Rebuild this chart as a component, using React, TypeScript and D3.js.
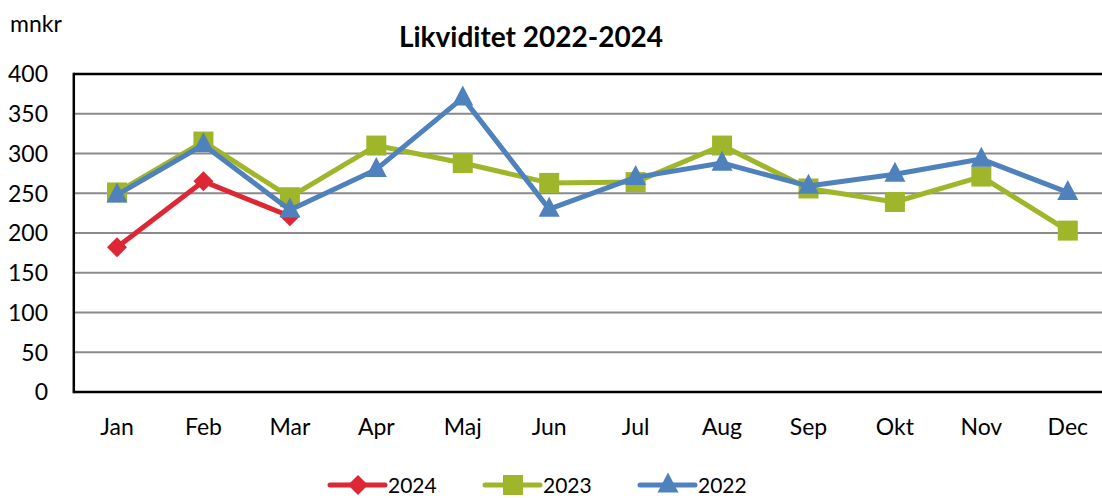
import React from "react";
import * as d3 from "d3";

const months = ["Jan", "Feb", "Mar", "Apr", "Maj", "Jun", "Jul", "Aug", "Sep", "Okt", "Nov", "Dec"];
const values2024 = [182, 265, 221];
const values2023 = [251, 315, 245, 310, 288, 263, 264, 310, 256, 239, 271, 203];
const values2022 = [248, 311, 229, 280, 370, 230, 270, 288, 259, 274, 293, 251];
const yTicks = [0, 50, 100, 150, 200, 250, 300, 350, 400];
const seriesNames = ["2024", "2023", "2022"];

const colors: Record<string, string> = { "2024": "#DD2735", "2023": "#A0B62A", "2022": "#4F81BD" };
const FONT = "Lato, 'Open Sans', sans-serif";

function Marker({ kind, x, y, color }: { kind: string; x: number; y: number; color: string }) {
  if (kind === "2024") {
    const s = 10;
    return <path d={`M${x},${y - s} L${x + s},${y} L${x},${y + s} L${x - s},${y} Z`} fill={color} />;
  }
  if (kind === "2023") {
    const s = 10;
    return <rect x={x - s} y={y - s} width={2 * s} height={2 * s} fill={color} />;
  }
  const h = 20;
  const w = 21;
  return <path d={`M${x},${y - h * 0.62} L${x + w / 2},${y + h * 0.38} L${x - w / 2},${y + h * 0.38} Z`} fill={color} />;
}

export default function App() {
  const left = 73.8, right = 1111, top = 74, bottom = 392;
  const x = d3.scaleBand<string>().domain(months).range([left, right]).padding(0);
  const cx = (m: string) => (x(m) as number) + x.bandwidth() / 2;
  const y = d3.scaleLinear().domain([0, 400]).range([bottom, top]);
  const line = d3.line<[string, number]>().x((d) => cx(d[0])).y((d) => y(d[1]));

  const series: [string, number[]][] = [
    ["2024", values2024],
    ["2023", values2023],
    ["2022", values2022],
  ];

  const legendX: Record<string, number> = { "2024": 330, "2023": 485, "2022": 640 };
  const legendY = 485;

  return (
    <svg width={1102} height={498} style={{ position: "absolute", left: 0, top: 0, background: "#fff" }}>
      <text x={10} y={32} fontFamily={FONT} fontSize={23} fill="#000">mnkr</text>
      <text x={531} y={47} textAnchor="middle" fontFamily={FONT} fontSize={28} fontWeight="bold" fill="#000">
        Likviditet 2022-2024
      </text>
      {yTicks.map((t) => (
        <g key={t}>
          {t > 0 && t < 400 && (
            <line x1={left} x2={right} y1={y(t)} y2={y(t)} stroke="#8a8a8a" strokeWidth={2} />
          )}
          <text x={48} y={y(t)} dy="0.36em" textAnchor="end" fontFamily={FONT} fontSize={23} fill="#000">
            {t}
          </text>
        </g>
      ))}
      <line x1={left} x2={right} y1={top} y2={top} stroke="#000" strokeWidth={2.5} />
      <line x1={left} x2={right} y1={bottom} y2={bottom} stroke="#000" strokeWidth={2.5} />
      <line x1={left} x2={left} y1={top - 1.2} y2={bottom + 1.2} stroke="#000" strokeWidth={2.5} />
      {months.map((m) => (
        <text key={m} x={cx(m)} y={435} textAnchor="middle" fontFamily={FONT} fontSize={23} fill="#000">
          {m}
        </text>
      ))}
      {series.map(([name, vals]) => {
        const pts: [string, number][] = vals.map((v, i) => [months[i], v]);
        return (
          <g key={name}>
            <path d={line(pts) || ""} fill="none" stroke={colors[name]} strokeWidth={5} strokeLinejoin="round" />
            {pts.map((p) => (
              <Marker key={p[0]} kind={name} x={cx(p[0])} y={y(p[1])} color={colors[name]} />
            ))}
          </g>
        );
      })}
      {seriesNames.map((name) => {
        const lx = legendX[name];
        return (
          <g key={name}>
            <line x1={lx} x2={lx + 55} y1={legendY} y2={legendY} stroke={colors[name]} strokeWidth={5} strokeLinecap="round" />
            <Marker kind={name} x={lx + 28} y={legendY} color={colors[name]} />
            <text x={lx + 58} y={legendY} dy="0.36em" fontFamily={FONT} fontSize={21} fill="#000">
              {name}
            </text>
          </g>
        );
      })}
    </svg>
  );
}
